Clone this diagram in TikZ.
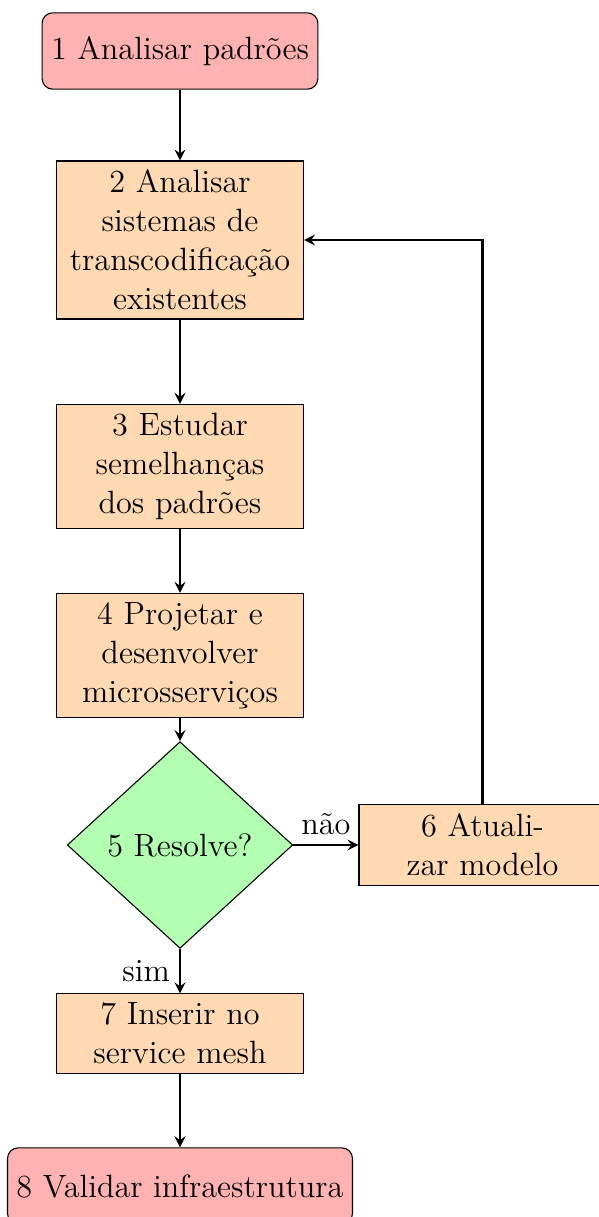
\documentclass[tikz,border=0pt]{standalone}
\usepackage{fontspec}
\usetikzlibrary{shapes.geometric,arrows}
\tikzset{
  every node/.append style={font=\fontsize{12}{14.5}\selectfont},
  startstop/.style={rectangle, rounded corners=4pt, minimum width=3cm, minimum height=1cm,
    text centered, draw=black, fill=red!30},
  process/.style={rectangle, minimum width=3cm, minimum height=1cm, text width=3cm,
    text centered, draw=black, fill=orange!30},
  decision/.style={diamond, inner sep=0pt, minimum width=84pt, minimum height=77pt,
    text centered, draw=black, fill=green!30},
  flow/.style={thick,->,>=stealth},
}
\begin{document}
\begin{tikzpicture}[x=0.3725pt,y=-0.3725pt]
  \clip (0,0) rectangle (599,1217);
  \node[startstop] (s1) at (180,51) {1 Analisar padrões};
  \node[process] (s2) at (180,240) {2 Analisar\\ sistemas de\\ transcodificação\\ existentes};
  \node[process] (s3) at (180,466.5) {3 Estudar\\ semelhanças\\ dos padrões};
  \node[process] (s4) at (180,655.5) {4 Projetar e\\ desenvolver\\ microsserviços};
  \node[decision] (s5) at (180,845) {5 Resolve?};
  \node[process] (s6) at (482.5,845) {6 Atuali-\\ zar modelo};
  \node[process] (s7) at (180,1033.5) {7 Inserir no\\ service mesh};
  \node[startstop] (s8) at (180,1186) {8 Validar infraestrutura};

  \draw[flow] (s1) -- (s2);
  \draw[flow] (s2) -- (s3);
  \draw[flow] (s3) -- (s4);
  \draw[flow] (s4) -- (s5);
  \draw[flow] (s5) -- node[above] {não} (s6);
  \draw[flow] (s5) -- node[left] {sim} (s7);
  \draw[flow] (s6.north) |- (s2.east);
  \draw[flow] (s7) -- (s8);
\end{tikzpicture}
\end{document}
